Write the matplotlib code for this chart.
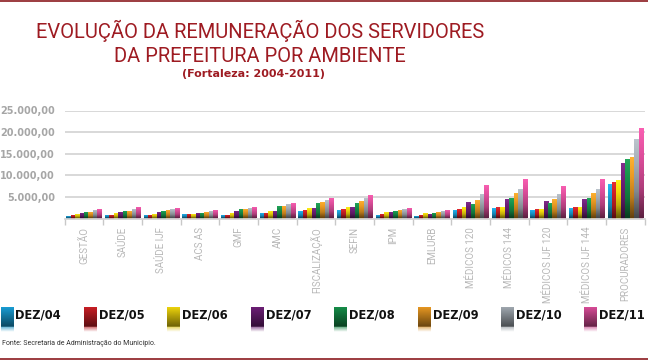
import numpy as np
import matplotlib
matplotlib.use("Agg")
import matplotlib.pyplot as plt
from matplotlib import font_manager as fm
from matplotlib.colors import to_rgb, LinearSegmentedColormap
from matplotlib.lines import Line2D

# categorias (ambientes) e série de remuneração por ano
categorias = ["GESTÃO", "SAÚDE", "SAÚDE IJF", "ACS AS", "GMF", "AMC", "FISCALIZAÇÃO",
              "SEFIN", "IPM", "EMLURB", "MÉDICOS 120", "MÉDICOS 144",
              "MÉDICOS IJF 120", "MÉDICOS IJF 144", "PROCURADORES"]
anos = ["DEZ/04", "DEZ/05", "DEZ/06", "DEZ/07", "DEZ/08", "DEZ/09", "DEZ/10", "DEZ/11"]

gestao = [600, 880, 1100, 1380, 1600, 1600, 2050, 2280]
saude = [770, 770, 1310, 1540, 1800, 1800, 2270, 2700]
saude_ijf = [770, 770, 1080, 1540, 1800, 2050, 2270, 2500]
acs_as = [1080, 1080, 1080, 1300, 1300, 1500, 1800, 2050]
gmf = [850, 850, 1300, 1700, 2230, 2230, 2460, 2650]
amc = [1270, 1270, 1730, 1730, 2900, 2900, 3350, 3580]
fiscalizacao = [1770, 2000, 2420, 2420, 3580, 3800, 4310, 4770]
sefin = [2000, 2230, 2730, 2620, 3580, 4120, 4800, 5450]
ipm = [800, 1100, 1500, 1420, 1730, 1960, 2200, 2420]
emlurb = [580, 800, 1270, 1000, 1270, 1500, 1730, 1960]
medicos_120 = [1950, 2200, 2700, 3730, 3350, 4280, 5680, 7760]
medicos_144 = [2400, 2600, 2600, 4400, 4750, 5920, 6800, 9130]
medicos_ijf_120 = [1950, 2150, 2150, 4000, 3550, 4500, 5650, 7500]
medicos_ijf_144 = [2400, 2600, 2600, 4400, 4750, 5920, 6800, 9130]
procuradores = [7950, 8400, 8850, 12900, 13750, 14200, 18350, 20950]

y_ticks = [5000, 10000, 15000, 20000, 25000]
y_labels = ["5.000,00", "10.000,00", "15.000,00", "20.000,00", "25.000,00"]

cores = ["#1aa0d8", "#cc1f26", "#f2d80c", "#6e1f78", "#16904a", "#eb9a22", "#a3abb3", "#dc4d9a"]

dados = np.array([gestao, saude, saude_ijf, acs_as, gmf, amc, fiscalizacao, sefin, ipm,
                  emlurb, medicos_120, medicos_144, medicos_ijf_120, medicos_ijf_144,
                  procuradores])

nomes = {f.name for f in fm.fontManager.ttflist}
estreita = "Liberation Sans Narrow" if "Liberation Sans Narrow" in nomes else "Roboto"

W, H = 648, 361
fig = plt.figure(figsize=(W / 100, H / 100), dpi=100)

ax = fig.add_axes([64.7 / W, 1 - 218.5 / H, 580 / W, 108 / H])

x = np.arange(len(categorias))
larg = 0.115
grad = np.linspace(0, 1, 64).reshape(-1, 1)

for j in range(len(anos)):
    bars = ax.bar(x + (j - 3.5) * larg, dados[:, j], width=larg, color=cores[j],
                  zorder=2, linewidth=0)
    c = np.array(to_rgb(cores[j]))
    cmap = LinearSegmentedColormap.from_list("g", [c * 0.42, c * 0.8, c, np.minimum(c * 1.08 + 0.05, 1)])
    for b in bars:
        x0, h, w = b.get_x(), b.get_height(), b.get_width()
        im = ax.imshow(grad, cmap=cmap, extent=(x0, x0 + w, 0, h), origin="lower",
                       aspect="auto", zorder=3)
        im.set_clip_path(b)

ax.set_xlim(-0.5, len(categorias) - 0.5)
ax.set_ylim(0, 25000)

for s in ["top", "right", "left"]:
    ax.spines[s].set_visible(False)
ax.spines["bottom"].set_color("#cfcfcf")
ax.spines["bottom"].set_linewidth(1.2)

ax.set_yticks(y_ticks)
ax.set_yticklabels(y_labels, fontsize=7, fontweight="bold", color="#a6a6a6")
ax.tick_params(axis="y", length=0, pad=7)
ax.yaxis.grid(True, color="#d2d2d2", linewidth=1.2, zorder=0)
ax.set_axisbelow(True)

ax.set_xticks(x)
ax.set_xticklabels(categorias, rotation=90, fontsize=7, color="#b8b8b8", family=estreita)
ax.tick_params(axis="x", which="major", length=0, pad=6)
ax.set_xticks(np.arange(len(categorias) + 1) - 0.5, minor=True)
ax.tick_params(axis="x", which="minor", length=4, width=1, color="#c8c8c8")

# título
vermelho = "#9e1b22"
fig.text(260 / W, 1 - 30.5 / H, "EVOLUÇÃO DA REMUNERAÇÃO DOS SERVIDORES", ha="center",
         va="center", fontsize=14.5, color=vermelho, family=estreita)
fig.text(260 / W, 1 - 57 / H, "DA PREFEITURA POR AMBIENTE", ha="center",
         va="center", fontsize=14.5, color=vermelho, family=estreita)
fig.text(254 / W, 1 - 74 / H, "(Fortaleza: 2004-2011)", ha="center", va="center",
         fontsize=8, fontweight="bold", color=vermelho)

# legenda
for i, (ano, cor) in enumerate(zip(anos, cores)):
    px = 0.5 + 83.4 * i
    lax = fig.add_axes([px / W, 1 - 332 / H, 12.5 / W, 25 / H])
    c = np.array(to_rgb(cor))
    t = np.linspace(0, 1, 40)[:, None]
    topo = c * (1 - 0.55 * t)
    img = np.ones((50, 1, 4))
    img[:40, 0, :3] = topo
    img[40:, 0, :3] = c * 0.9
    img[40:, 0, 3] = np.linspace(0.6, 0, 10)
    lax.imshow(img, aspect="auto", interpolation="bilinear")
    lax.axis("off")
    fig.text((px + 15) / W, 1 - 315 / H, ano, ha="left", va="center", fontsize=8.3,
             fontweight="bold", color="#111111")

fig.text(2 / W, 1 - 343 / H, "Fonte: Secretaria de Administração do Município.",
         ha="left", va="center", fontsize=5, color="#333333", family=estreita)

fig.add_artist(Line2D([0, 1], [1 - 1 / H, 1 - 1 / H], transform=fig.transFigure,
                      color="#8b1a1f", linewidth=1.2))
fig.add_artist(Line2D([0, 1], [1 - 359 / H, 1 - 359 / H], transform=fig.transFigure,
                      color="#8b1a1f", linewidth=1.2))

fig.savefig("out.png", dpi=100)
